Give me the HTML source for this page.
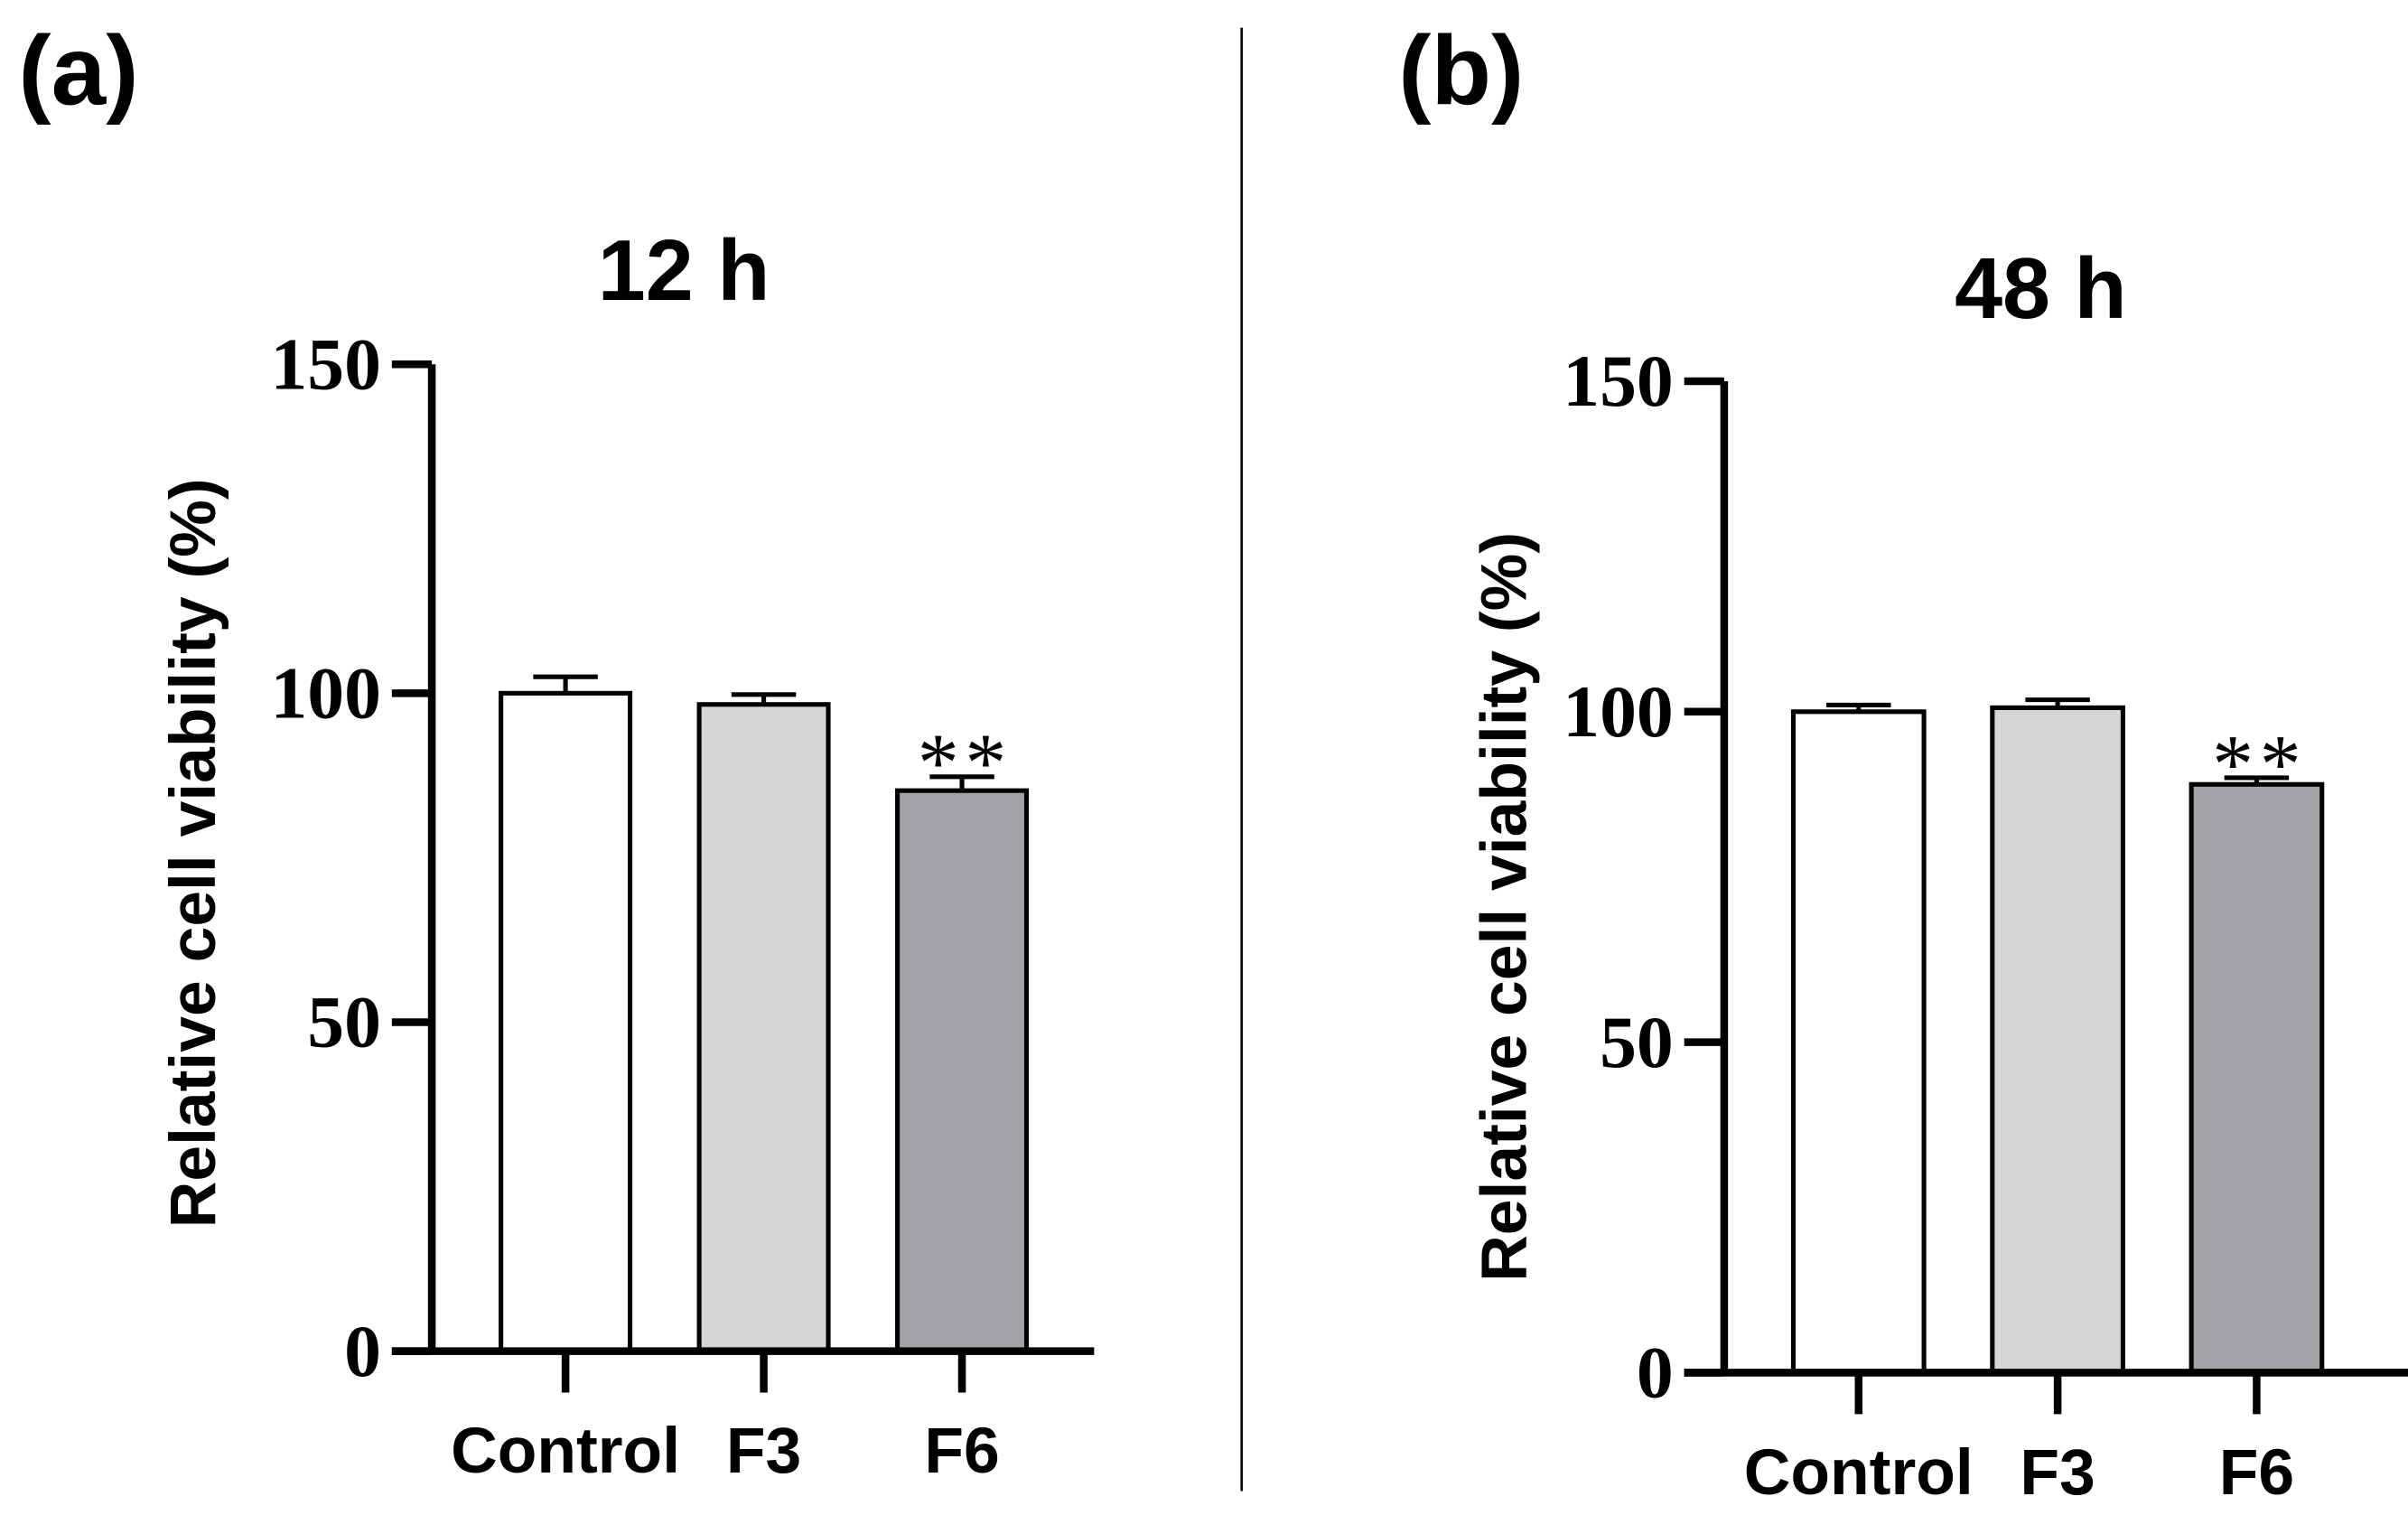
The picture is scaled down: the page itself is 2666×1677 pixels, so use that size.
<!DOCTYPE html>
<html><head><meta charset="utf-8"><style>
html,body{margin:0;padding:0;background:#fff;}
svg{display:block;}
.tick{font-family:"Liberation Serif",serif;font-weight:bold;font-size:48px;}
.ast{font-family:"Liberation Serif",serif;font-size:54px;letter-spacing:4px;}
.cat{font-family:"Liberation Sans",sans-serif;font-weight:bold;font-size:42px;}
.title{font-family:"Liberation Sans",sans-serif;font-weight:bold;font-size:56px;}
.ylab{font-family:"Liberation Sans",sans-serif;font-weight:bold;font-size:42px;}
.panel{font-family:"Liberation Sans",sans-serif;font-weight:bold;font-size:64px;}
</style></head><body>
<svg id="fig" width="2666" height="1677" viewBox="0 0 1567 985.6" preserveAspectRatio="none">
<line x1="808" y1="18" x2="808" y2="970" stroke="#000" stroke-width="1.5"/>
</svg>
<script>
const categories=["Control","F3","F6"];
const values12=[100,98.3,85.2];
const errors12=[2.5,1.5,2.1];
const values48=[100,100.6,89];
const errors48=[1.0,1.2,1.0];
const sig12=["","","**"];
const sig48=["","","**"];
const yTicks=[0,50,100,150];
const fills=["#ffffff","#d6d6d6","#a3a3a7"];
const NS="http://www.w3.org/2000/svg";
const svg=document.getElementById('fig');
function mk(tag,attrs,parent){const e=document.createElementNS(NS,tag);for(const k in attrs)e.setAttribute(k,attrs[k]);(parent||svg).appendChild(e);return e;}
function panel(cfg){
  const g=mk('g',{});
  
  
  const y=v=>cfg.y0+(cfg.y150-cfg.y0)*v/150;
  const bw=cfg.bw, step=cfg.step;
  const cx=i=>cfg.firstC+i*step;
  cfg.vals.forEach((v,i)=>{
    const top=y(v+cfg.errs[i]);
    const eb=mk('path',{d:`M${cx(i)} ${y(v)} V${top} M${cx(i)-21} ${top} H${cx(i)+21}`,stroke:'#000','stroke-width':3,fill:'none'},g);
    
    
    const r=mk('rect',{x:cx(i)-bw/2,y:y(v),width:bw,height:y(0)-y(v),fill:fills[i],stroke:'#000','stroke-width':3},g);
    
    
    if(cfg.sig[i]){
      const s=mk('text',{x:cx(i)+2,y:top+9,'text-anchor':'middle',class:'ast'},g);
      s.textContent=cfg.sig[i];
      
      
    }
    const tk=mk('line',{x1:cx(i),x2:cx(i),y1:y(0),y2:y(0)+27,stroke:'#000','stroke-width':5},g);
    
    
    const t=mk('text',{x:cx(i),y:y(0)+79,'text-anchor':'middle',class:'cat'},g);
    t.textContent=categories[i];
    
    
  });
  const ax=mk('path',{d:`M${cfg.ax} ${y(150)} V${y(0)} M${cfg.ax-26} ${y(0)} H${cfg.xEnd}`,stroke:'#000','stroke-width':5,fill:'none'},g);
  
  
  yTicks.forEach(v=>{
    const l=mk('line',{x1:cfg.ax-26,x2:cfg.ax,y1:y(v),y2:y(v),stroke:'#000','stroke-width':5},g);
    
    
    const t=mk('text',{x:cfg.ax-33,y:y(v)+16,'text-anchor':'end',class:'tick'},g);
    t.textContent=v;
    
    
  });
  const yl=mk('text',{x:0,y:0,'text-anchor':'middle',class:'ylab',transform:`translate(${cfg.ylx},${cfg.yly}) rotate(-90)`},g);
  yl.textContent='Relative cell viability (%)';
  
  
  const ti=mk('text',{x:cfg.tx,y:cfg.ty,'text-anchor':'middle',class:'title'},g);
  ti.textContent=cfg.title;
  
  
  const pl=mk('text',{x:cfg.px,y:68,class:'panel'},g);
  pl.textContent=cfg.plabel;
  
  
}
panel({name:'panel-a-12h',y0:879,y150:237,ax:281,xEnd:712,firstC:368,step:129,bw:84,vals:values12,errs:errors12,sig:sig12,ylx:140,yly:555,tx:445,ty:195,title:'12 h',px:12,plabel:'(a)'});
panel({name:'panel-b-48h',y0:893,y150:248,ax:1122,xEnd:1567,firstC:1209.5,step:129.5,bw:85,vals:values48,errs:errors48,sig:sig48,ylx:993,yly:590,tx:1328,ty:207,title:'48 h',px:910,plabel:'(b)'});
</script>
</body></html>
